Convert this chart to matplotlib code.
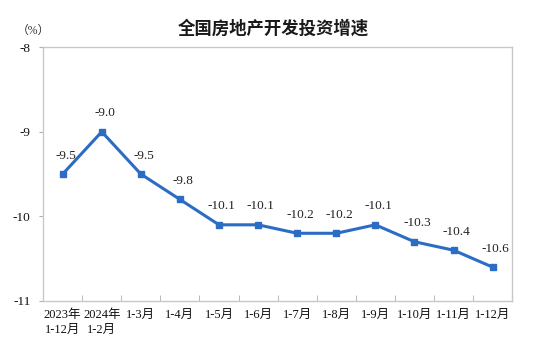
import matplotlib
matplotlib.use("Agg")
import matplotlib.pyplot as plt
import numpy as np

categories = ["2023年\n1-12月", "2024年\n1-2月", "1-3月", "1-4月", "1-5月", "1-6月",
              "1-7月", "1-8月", "1-9月", "1-10月", "1-11月", "1-12月"]
values = [-9.5, -9.0, -9.5, -9.8, -10.1, -10.1, -10.2, -10.2, -10.1, -10.3, -10.4, -10.6]
yticks = [-8, -9, -10, -11]

fam = ["Liberation Serif", "Noto Sans CJK SC"]
plt.rcParams["font.family"] = fam

fig = plt.figure(figsize=(5.46, 3.6), dpi=100)
ax = fig.add_axes([0.079, 0.164, 0.859, 0.705])
x = np.arange(len(values))
color = "#2b6cc4"
ax.plot(x, values, color=color, lw=2.2, marker="s", ms=4.2, zorder=3)
for xi, v in zip(x, values):
    ax.annotate(f"{v:.1f}", (xi, v), xytext=(2, 9), textcoords="offset points",
                ha="center", va="bottom", fontsize=9.5, color="#222222")

ax.set_xlim(-0.5, len(values) - 0.5)
ax.set_ylim(-11, -8)
ax.set_yticks(yticks)
ax.set_yticklabels([str(t) for t in yticks], fontsize=9.5, color="#111111")
ax.set_xticks(x)
ax.set_xticklabels(categories, fontsize=9, color="#111111", linespacing=1.3)
ax.set_xticks(np.arange(0.5, len(values) - 0.5, 1), minor=True)
ax.tick_params(axis="x", which="major", length=0, pad=6)
ax.tick_params(axis="x", which="minor", direction="in", length=4, color="#b0b0b0")
ax.tick_params(axis="y", length=3, color="#b0b0b0", pad=6)
for s in ax.spines.values():
    s.set_color("#c8c8c8")
    s.set_linewidth(1.0)

fig.text(0.5, 0.92, "全国房地产开发投资增速", ha="center", va="center", fontsize=12.5,
         family=["Noto Sans CJK SC"], weight="bold", color="#1a1a1a")
fig.text(0.03, 0.915, "（%）", ha="left", va="center", fontsize=8.5, color="#333333")

fig.savefig("out.png", dpi=100)
